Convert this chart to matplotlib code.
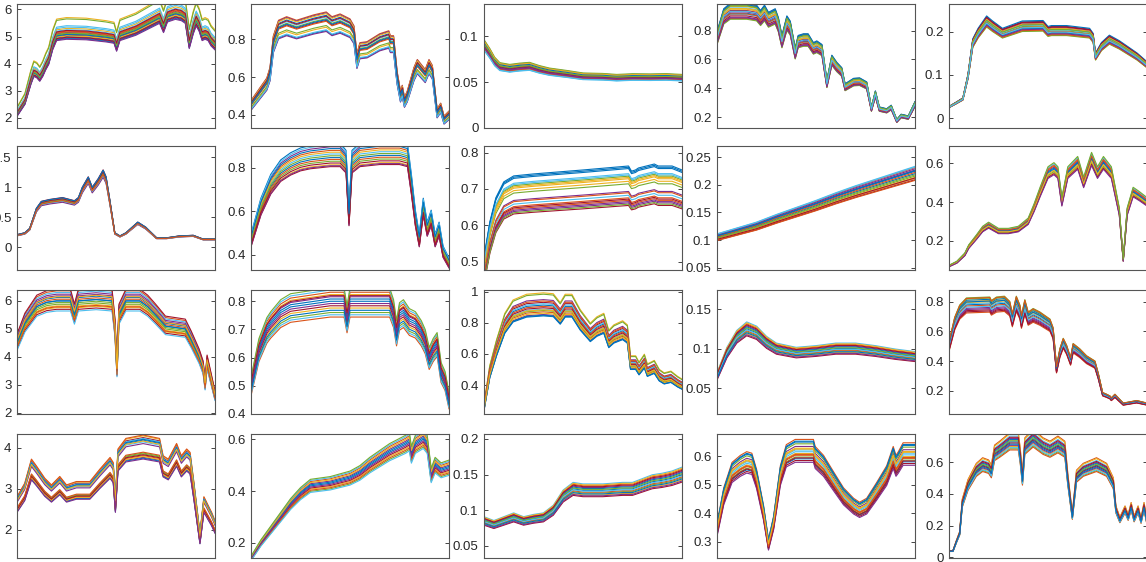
import numpy as np
import matplotlib
matplotlib.use('Agg')
import matplotlib.pyplot as plt

plt.rcParams['font.family'] = ['Liberation Sans', 'DejaVu Sans']

# matlab default line colours
colors = ['#0072BD', '#D95319', '#EDB120', '#7E2F8E', '#77AC30', '#4DBEEE', '#A2142F']

# ---- row 1 ----
x_r1c1 = [0, 4, 7, 8.5, 10, 11.5, 13, 14.5, 16, 18, 20, 25, 35, 45, 49, 50.3, 52, 60, 72, 74, 76, 80, 83, 85, 87, 89, 90.5, 92, 93.5, 95, 96.5, 98, 100]
y_r1c1 = [2.1, 2.55, 3.3, 3.6, 3.55, 3.42, 3.6, 3.85, 4.05, 4.6, 4.95, 5.0, 4.98, 4.9, 4.85, 4.55, 4.95, 5.15, 5.6, 5.25, 5.65, 5.75, 5.7, 5.6, 4.65, 5.2, 5.5, 5.3, 4.95, 5.0, 4.95, 4.75, 4.6]
k_r1c1 = [1.0, 1.01, 1.14, 0.99, 1.13, 1.08, 1.02, 0.985, 1.04, 1.005, 1.03, 1.02, 1.07, 0.995, 1.015, 1.035, 1.06, 0.98, 1.025, 1.05, 1.045]

x_r1c2 = [0, 8, 9.6, 11.3, 13.9, 18, 23, 31.6, 38, 40.9, 45, 50, 52, 53.5, 55, 58.6, 65, 69.6, 70.4, 72, 73.8, 75.5, 76.4, 77.5, 78.9, 82.3, 84, 85.6, 88, 89.9, 91.6, 94, 95.8, 97.5, 100]
y_r1c2 = [0.453, 0.567, 0.62, 0.78, 0.858, 0.876, 0.858, 0.885, 0.90, 0.876, 0.89, 0.865, 0.83, 0.69, 0.745, 0.75, 0.79, 0.805, 0.78, 0.78, 0.60, 0.50, 0.53, 0.47, 0.50, 0.62, 0.66, 0.64, 0.61, 0.66, 0.63, 0.41, 0.44, 0.375, 0.40]
k_r1c2 = [1.03, 1.05, 0.96, 1.045, 0.97, 1.02, 1.0, 0.94, 0.995, 1.04, 0.935, 1.01, 0.945, 1.025, 1.005]

x_r1c3 = [0, 2.9, 5.4, 8, 13, 18, 23, 28, 33, 42, 50, 60, 67, 75, 84, 92, 100]
y_r1c3 = [0.090, 0.081, 0.072, 0.0665, 0.0647, 0.066, 0.0668, 0.0635, 0.061, 0.0585, 0.056, 0.0555, 0.0545, 0.0552, 0.055, 0.0553, 0.0545]
k_r1c3 = [1.0, 1.04, 0.97, 1.06, 0.95, 1.02, 0.99, 1.05, 0.96, 1.03, 0.98, 1.07, 0.94, 1.01, 1.035, 0.965, 1.055, 0.975, 1.015, 0.945]

x_r1c4 = [0, 3.4, 6.7, 15, 20, 22, 24, 26, 29.4, 31, 32.8, 35.3, 37, 39.5, 41, 43.7, 46, 48.7, 50.4, 53, 55.5, 58, 60.5, 63, 64.7, 69, 72, 75.6, 78, 80, 82, 85.7, 88, 90.8, 93, 96.6, 100]
y_r1c4 = [0.736, 0.885, 0.92, 0.92, 0.908, 0.874, 0.908, 0.862, 0.885, 0.828, 0.713, 0.839, 0.805, 0.632, 0.713, 0.724, 0.724, 0.667, 0.678, 0.655, 0.425, 0.586, 0.54, 0.506, 0.402, 0.437, 0.44, 0.414, 0.253, 0.356, 0.253, 0.241, 0.264, 0.172, 0.206, 0.195, 0.287]
k_r1c4 = [1.0, 1.07, 1.03, 0.97, 1.06, 0.99, 1.02, 1.065, 0.96, 1.05, 1.01, 0.955, 1.04, 0.98, 1.075, 0.995, 1.035, 0.965, 1.055, 1.015]

x_r1c5 = [0, 3.7, 7, 9.6, 12, 14.7, 19, 22, 27, 37, 47.5, 50, 51.8, 59.4, 71, 72.8, 74, 77, 81, 86, 95, 100]
y_r1c5 = [0.0254, 0.035, 0.044, 0.096, 0.173, 0.196, 0.223, 0.212, 0.196, 0.212, 0.213, 0.2, 0.202, 0.202, 0.196, 0.185, 0.142, 0.165, 0.181, 0.169, 0.142, 0.123]
k_r1c5 = [1.05, 0.98, 0.95, 1.02, 1.0, 0.97, 1.04, 1.06, 0.99, 0.96, 1.03, 0.945, 1.01, 1.045, 0.975, 0.955, 1.025, 0.965, 1.015, 0.985]

# ---- row 2 ----
x_r2c1 = [0, 3.9, 6.4, 9.8, 12.3, 16.5, 23, 29, 31, 33, 36, 38, 41, 43.5, 45, 47, 49.4, 52, 55, 61, 65, 70.5, 75.5, 82, 89, 94, 100]
y_r2c1 = [0.2, 0.23, 0.3, 0.62, 0.73, 0.76, 0.79, 0.74, 0.79, 0.955, 1.12, 0.955, 1.09, 1.23, 1.12, 0.73, 0.23, 0.18, 0.23, 0.4, 0.32, 0.15, 0.15, 0.18, 0.19, 0.13, 0.13]
k_r2c1 = [1.04, 0.98, 0.96, 1.02, 1.0, 0.97, 1.05, 1.01, 0.99, 1.03, 0.95, 1.0, 0.975, 1.025, 1.045, 0.985]

x_r2c2 = [0, 5, 10, 15, 20, 25, 30, 40, 45, 48, 49.5, 51, 55, 65, 75, 79, 81, 83, 85, 87, 89, 91, 93, 95, 97, 100]
y_r2c2 = [0.45, 0.6, 0.7, 0.76, 0.79, 0.81, 0.82, 0.83, 0.83, 0.8, 0.55, 0.8, 0.83, 0.84, 0.84, 0.83, 0.7, 0.55, 0.45, 0.6, 0.5, 0.55, 0.45, 0.5, 0.4, 0.35]
k_r2c2 = [1.02, 1.06, 0.98, 1.08, 1.0, 1.04, 0.97, 1.1, 1.01, 1.05, 0.975, 1.03, 1.09, 0.99, 1.07]

x_r2c3 = [0, 3, 6, 10, 15, 25, 50, 73, 74.5, 76.5, 78, 86, 88, 95, 100]
y_r2c3 = [0.47, 0.56, 0.62, 0.66, 0.675, 0.68, 0.69, 0.70, 0.687, 0.69, 0.695, 0.705, 0.70, 0.70, 0.69]
k_r2c3 = [1.085, 0.955, 1.04, 0.99, 1.02, 1.055, 0.935, 1.09, 0.965, 1.03, 0.945, 1.05, 0.975, 0.96, 1.08, 0.985, 1.045, 0.95, 0.94, 1.06]

x_r2c4 = [0, 10, 20, 30, 40, 50, 60, 70, 80, 90, 100]
y_r2c4 = [0.105, 0.115, 0.125, 0.138, 0.15, 0.162, 0.175, 0.187, 0.198, 0.209, 0.22]
k_r2c4 = [1.0, 1.05, 0.96, 1.03, 0.98, 1.06, 0.95, 1.02, 1.01, 0.97, 1.04, 0.99, 1.055, 0.965, 1.025, 0.945]

x_r2c5 = [0, 4, 8, 10, 14, 17, 20, 25, 30, 35, 40, 43, 46, 50, 53, 55, 57, 60, 65, 68, 72, 75, 78, 82, 86, 88, 90, 93, 96, 100]
y_r2c5 = [0.07, 0.09, 0.13, 0.17, 0.22, 0.26, 0.28, 0.25, 0.25, 0.26, 0.3, 0.37, 0.45, 0.55, 0.57, 0.55, 0.4, 0.55, 0.6, 0.5, 0.62, 0.55, 0.6, 0.55, 0.35, 0.1, 0.35, 0.45, 0.43, 0.4]
k_r2c5 = [1.0, 1.04, 0.97, 1.02, 0.98, 1.05, 0.96, 1.01, 1.03, 0.99, 0.95, 1.06]

# ---- row 3 ----
x_r3c1 = [0, 4, 8, 10, 15, 20, 27, 29, 31, 40, 48, 49.5, 50.5, 51.5, 55, 62, 66, 70, 75, 80, 85, 88, 90, 92, 94, 95, 96, 98, 100]
y_r3c1 = [4.5, 5.2, 5.6, 5.8, 5.95, 6.0, 6.0, 5.5, 6.0, 6.05, 6.0, 5.0, 3.5, 5.5, 6.0, 6.0, 5.8, 5.5, 5.1, 5.05, 5.0, 4.6, 4.3, 4.0, 3.6, 3.0, 3.8, 3.2, 2.6]
k_r3c1 = [1.0, 1.06, 0.96, 1.03, 0.98, 1.05, 0.95, 1.02, 1.01, 0.97, 1.04, 0.99, 0.94, 1.07, 1.0, 0.965, 1.025]

x_r3c2 = [0, 4, 8, 10, 15, 20, 30, 40, 47, 48.5, 50, 60, 70, 72, 73.5, 75, 77, 80, 83, 86, 88, 90, 92, 94, 96, 98, 100]
y_r3c2 = [0.5, 0.63, 0.7, 0.72, 0.76, 0.78, 0.79, 0.8, 0.8, 0.74, 0.8, 0.8, 0.8, 0.76, 0.69, 0.75, 0.76, 0.73, 0.72, 0.69, 0.66, 0.6, 0.63, 0.65, 0.55, 0.52, 0.45]
k_r3c2 = [1.0, 1.04, 0.97, 1.02, 0.95, 1.05, 0.98, 1.01, 0.93, 1.03, 0.99, 1.06, 0.94, 1.025, 0.96]

x_r3c3 = [0, 2.9, 6.3, 10.5, 14.7, 21.5, 30, 35, 38.5, 41, 44.4, 48.6, 53.7, 57, 60.5, 63, 65.6, 70, 72.4, 74, 76.6, 78.3, 81, 82.5, 86, 88.5, 91, 94.4, 97.8, 100]
y_r3c3 = [0.245, 0.46, 0.605, 0.755, 0.83, 0.862, 0.87, 0.865, 0.815, 0.862, 0.862, 0.776, 0.70, 0.735, 0.755, 0.66, 0.69, 0.713, 0.69, 0.516, 0.516, 0.48, 0.525, 0.47, 0.49, 0.44, 0.42, 0.43, 0.40, 0.385]
k_r3c3 = [1.05, 1.0, 1.14, 0.98, 1.13, 1.02, 1.07, 0.97, 1.04, 0.99, 1.09, 1.01, 1.06, 1.03, 0.975, 1.08, 1.015]

x_r3c4 = [0, 5, 10, 15, 20, 25, 30, 40, 50, 60, 70, 80, 90, 100]
y_r3c4 = [0.065, 0.095, 0.115, 0.125, 0.12, 0.108, 0.1, 0.095, 0.097, 0.1, 0.1, 0.097, 0.093, 0.09]
k_r3c4 = [1.0, 1.05, 0.95, 1.03, 0.97, 1.07, 0.93, 1.02, 0.98, 1.06, 0.94, 1.01, 0.99, 1.04, 0.96]

x_r3c5 = [0, 2.9, 5.4, 8.8, 20.6, 21.4, 24, 28, 30.7, 32, 34, 35.8, 36.6, 38.3, 40, 42.5, 45.9, 51, 52.6, 54.3, 56, 57.7, 59.4, 61.4, 62.7, 66, 69.5, 73.7, 75.4, 77.6, 79.6, 81.3, 82, 83.8, 85.5, 88, 94.8, 100]
y_r3c5 = [0.5, 0.656, 0.733, 0.778, 0.784, 0.762, 0.784, 0.789, 0.756, 0.678, 0.789, 0.733, 0.667, 0.767, 0.689, 0.711, 0.689, 0.644, 0.589, 0.344, 0.456, 0.522, 0.478, 0.4, 0.489, 0.456, 0.411, 0.378, 0.3, 0.178, 0.167, 0.156, 0.144, 0.167, 0.144, 0.111, 0.127, 0.111]
k_r3c5 = [1.0, 0.93, 1.03, 0.97, 1.06, 1.01, 0.95, 1.04, 0.99, 1.02, 0.96, 1.05, 0.98, 0.94, 1.025, 1.055]

# ---- row 4 ----
x_r4c1 = [0, 3.9, 7.3, 9.8, 14, 17.4, 21.6, 25, 30, 36.8, 41.8, 47, 48.6, 49.7, 51, 55, 63.7, 72, 73.8, 76.4, 80.6, 83, 85.7, 87.4, 89.4, 92.4, 94.4, 96.6, 98.3, 100]
y_r4c1 = [2.72, 3.04, 3.61, 3.45, 3.16, 3.0, 3.2, 3.0, 3.08, 3.08, 3.37, 3.65, 3.53, 2.72, 3.85, 4.1, 4.18, 4.1, 3.69, 3.61, 3.98, 3.69, 3.85, 3.77, 3.04, 1.86, 2.72, 2.51, 2.35, 2.15]
k_r4c1 = [1.0, 0.91, 1.025, 0.9, 0.92, 0.99, 1.015, 0.895, 1.03, 0.905, 0.98, 0.925, 1.01, 0.915, 1.005, 0.93, 0.995, 0.89]

x_r4c2 = [0, 5, 10, 15, 20, 25, 30, 40, 50, 55, 60, 70, 78, 80, 81, 83, 87, 89, 91, 93, 96, 100]
y_r4c2 = [0.14, 0.2, 0.25, 0.3, 0.35, 0.39, 0.42, 0.43, 0.45, 0.47, 0.5, 0.55, 0.58, 0.59, 0.54, 0.58, 0.6, 0.58, 0.46, 0.5, 0.48, 0.49]
k_r4c2 = [1.0, 1.04, 0.97, 1.02, 0.95, 1.05, 0.98, 1.01, 0.96, 1.03, 0.99, 1.06, 0.94]

x_r4c3 = [0, 5, 10, 15, 20, 25, 30, 35, 40, 45, 50, 60, 70, 75, 80, 85, 90, 95, 100]
y_r4c3 = [0.085, 0.08, 0.085, 0.09, 0.085, 0.088, 0.09, 0.1, 0.12, 0.13, 0.128, 0.128, 0.13, 0.13, 0.135, 0.14, 0.142, 0.145, 0.15]
k_r4c3 = [1.0, 1.05, 0.95, 1.03, 0.97, 1.07, 0.93, 1.02, 0.98, 1.06, 0.94, 1.01, 0.99, 1.04, 0.96]

x_r4c4 = [0, 3.4, 7.6, 11.8, 15, 17.6, 20, 23.5, 26, 28.6, 32, 35, 39.5, 46, 48.7, 49.6, 53.8, 58.8, 63.9, 69, 72, 75.6, 80.7, 85.7, 89, 90.4, 91.6, 94, 100]
y_r4c4 = [0.34, 0.457, 0.54, 0.563, 0.575, 0.57, 0.517, 0.4, 0.289, 0.365, 0.529, 0.598, 0.615, 0.615, 0.615, 0.592, 0.563, 0.51, 0.457, 0.423, 0.41, 0.423, 0.475, 0.529, 0.592, 0.563, 0.575, 0.604, 0.604]
k_r4c4 = [0.96, 1.07, 0.99, 1.03, 0.97, 1.01, 0.95, 1.06, 0.98, 1.02, 0.94, 1.045, 1.0, 0.965, 1.055, 0.985, 1.015]

x_r4c5 = [0, 2, 3.7, 5.4, 6.7, 9.6, 13.8, 17, 20, 21.4, 23, 25.6, 30.7, 35, 36, 37.1, 38.3, 42.5, 47.5, 51, 55, 58.5, 60, 62.3, 64.4, 67.8, 74.5, 79.6, 83, 84.3, 86.3, 88.9, 90.5, 92, 93.5, 95.5, 97, 98.5, 100]
y_r4c5 = [0.038, 0.038, 0.096, 0.15, 0.34, 0.455, 0.55, 0.583, 0.57, 0.54, 0.657, 0.68, 0.73, 0.73, 0.635, 0.49, 0.70, 0.75, 0.70, 0.68, 0.71, 0.68, 0.49, 0.257, 0.51, 0.55, 0.583, 0.55, 0.465, 0.30, 0.234, 0.3, 0.25, 0.32, 0.24, 0.3, 0.23, 0.32, 0.22]
k_r4c5 = [1.0, 1.08, 0.96, 1.03, 0.94, 1.05, 0.99, 1.02, 0.93, 1.07, 0.97, 1.01, 0.95, 1.04, 0.98]

panels = [
    [(x_r1c1, y_r1c1, k_r1c1), (x_r1c2, y_r1c2, k_r1c2), (x_r1c3, y_r1c3, k_r1c3), (x_r1c4, y_r1c4, k_r1c4), (x_r1c5, y_r1c5, k_r1c5)],
    [(x_r2c1, y_r2c1, k_r2c1), (x_r2c2, y_r2c2, k_r2c2), (x_r2c3, y_r2c3, k_r2c3), (x_r2c4, y_r2c4, k_r2c4), (x_r2c5, y_r2c5, k_r2c5)],
    [(x_r3c1, y_r3c1, k_r3c1), (x_r3c2, y_r3c2, k_r3c2), (x_r3c3, y_r3c3, k_r3c3), (x_r3c4, y_r3c4, k_r3c4), (x_r3c5, y_r3c5, k_r3c5)],
    [(x_r4c1, y_r4c1, k_r4c1), (x_r4c2, y_r4c2, k_r4c2), (x_r4c3, y_r4c3, k_r4c3), (x_r4c4, y_r4c4, k_r4c4), (x_r4c5, y_r4c5, k_r4c5)],
]

# axis limits and ticks for each panel
limits = [
    [((1.63, 6.2), [2, 3, 4, 5, 6]), ((0.33, 0.987), [0.4, 0.6, 0.8]), ((0, 0.135), [0, 0.05, 0.1]),
     ((0.126, 0.984), [0.2, 0.4, 0.6, 0.8]), ((-0.023, 0.264), [0, 0.1, 0.2])],
    [((-0.38, 1.69), [0, 0.5, 1, 1.5]), ((0.33, 0.9), [0.4, 0.6, 0.8]), ((0.477, 0.818), [0.5, 0.6, 0.7, 0.8]),
     ((0.046, 0.27), [0.05, 0.1, 0.15, 0.2, 0.25]), ((0.05, 0.69), [0.2, 0.4, 0.6])],
    [((1.96, 6.39), [2, 3, 4, 5, 6]), ((0.41, 0.84), [0.4, 0.5, 0.6, 0.7, 0.8]), ((0.215, 1.01), [0.4, 0.6, 0.8, 1]),
     ((0.0175, 0.174), [0.05, 0.1, 0.15]), ((0.044, 0.878), [0.2, 0.4, 0.6, 0.8])],
    [((1.31, 4.33), [2, 3, 4]), ((0.142, 0.62), [0.2, 0.4, 0.6]), ((0.033, 0.207), [0.05, 0.1, 0.15, 0.2]),
     ((0.244, 0.677), [0.3, 0.4, 0.5, 0.6]), ((-0.006, 0.78), [0, 0.2, 0.4, 0.6])],
]

W, H = 1146, 562
lefts = [17, 251, 484, 717, 949]
tops = [4, 146, 290, 434]
aw, ah = 198, 124

fig = plt.figure(figsize=(W / 100, H / 100), dpi=100)

for r in range(4):
    for c in range(5):
        ax = fig.add_axes([lefts[c] / W, 1 - (tops[r] + ah) / H, aw / W, ah / H])
        xs, ys, ks = panels[r][c]
        base = np.array(ys)
        for i, k in enumerate(ks):
            ax.plot(xs, base * k, color=colors[i % 7], lw=0.8)
        ylim, yt = limits[r][c]
        ax.set_xlim(0, 100)
        ax.set_ylim(*ylim)
        ax.set_xticks([])
        ax.set_yticks(yt)
        ax.set_yticklabels([('%g' % v) for v in yt])
        ax.tick_params(axis='y', direction='in', length=3, width=0.6, right=True,
                       labelsize=9.5, labelcolor='#262626', color='#262626', pad=4)
        for s in ax.spines.values():
            s.set_color('#555555')
            s.set_linewidth(0.8)

fig.savefig('out.png', dpi=100)
